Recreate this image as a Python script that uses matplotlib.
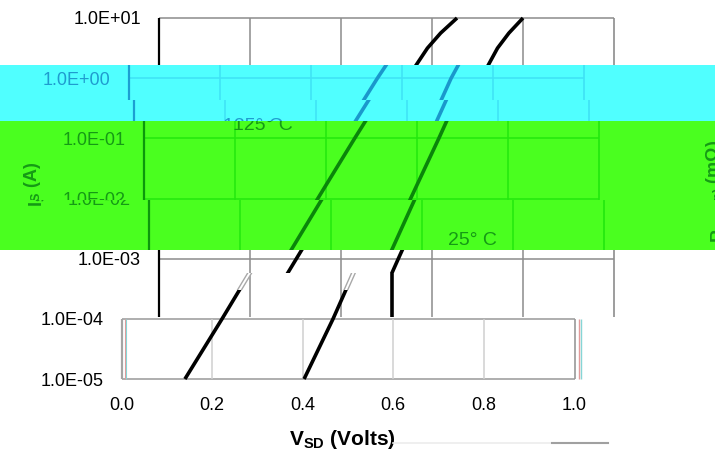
import numpy as np
import matplotlib
matplotlib.use("Agg")
import matplotlib.pyplot as plt
from matplotlib.ticker import NullLocator
from matplotlib.lines import Line2D

plt.rcParams['font.family'] = ['Liberation Sans', 'DejaVu Sans']
plt.rcParams['mathtext.fontset'] = 'custom'
plt.rcParams['mathtext.rm'] = 'Liberation Sans'
plt.rcParams['mathtext.bf'] = 'Liberation Sans:bold'
plt.rcParams['mathtext.it'] = 'Liberation Sans:italic'

# ---------------- data ----------------
is_amps = [1e-5, 1e-4, 1e-3, 1e-2, 1e-1, 1.0, 3.16, 5.62, 10.0]
vsd_125c = [0.140, 0.222, 0.302, 0.382, 0.463, 0.546, 0.590, 0.619, 0.655]
vsd_25c = [0.403, 0.467, 0.526, 0.586, 0.648, 0.708, 0.744, 0.769, 0.800]
y_ticks = [1e-5, 1e-4, 1e-3, 1e-2, 1e-1, 1e0, 1e1]
y_tick_labels = ["1.0E-05", "1.0E-04", "1.0E-03", "1.0E-02", "1.0E-01", "1.0E+00", "1.0E+01"]
x_ticks = [0.0, 0.2, 0.4, 0.6, 0.8, 1.0]
x_tick_labels = ["0.0", "0.2", "0.4", "0.6", "0.8", "1.0"]
curve_labels = ["125° C", "25° C"]
x_label = r"V$_{\mathbf{SD}}$ (Volts)"
y_label = r"I$_{\mathbf{S}}$ (A)"
right_label = r"R$_{\mathbf{DS(on)}}$ (mΩ)"

# ---------------- geometry ----------------
W, H = 715, 450
TOP_PX = 18.0      # pixel row of 1E+01
DEC_PX = 60.17     # pixels per decade


def L_of(px):
    return 1 - (px - TOP_PX) / DEC_PX


def Y_of(px):
    return 10 ** L_of(px)


themes = {
    'white': dict(bg='white', spine='black', frame='#8c8c8c', grid='#8c8c8c',
                  curve='black', text='black'),
    'cyan': dict(bg='#50ffff', spine='#1c9fd2', frame='#3fe2f5', grid='#3fe2f5',
                 curve='#1a98cc', text='#1f9ccf'),
    'green': dict(bg='#4aff1f', spine='#0c980c', frame='#22e80e', grid='#22e80e',
                  curve='#0a850a', text='#159a15'),
    'box': dict(bg='none', spine='#a4a4a4', frame='#989898', grid='#cfcfcf',
                curve='black', text='black'),
}

fig = plt.figure(figsize=(W / 100, H / 100), dpi=100)


def make_ax(top, bot, x0, scale, bg):
    ax = fig.add_axes([0, 1 - bot / H, 1, (bot - top) / H])
    ax.set_yscale('log')
    ax.set_xlim(-x0 / scale, (W - x0) / scale)
    ax.set_ylim(Y_of(bot), Y_of(top))
    if bg == 'none':
        ax.patch.set_alpha(0)
    else:
        ax.set_facecolor(bg)
    for s in ax.spines.values():
        s.set_visible(False)
    ax.yaxis.set_minor_locator(NullLocator())
    ax.tick_params(which='both', left=False, bottom=False,
                   labelleft=False, labelbottom=False)
    return ax


def draw_grid(ax, th, ylo=None, yhi=None, hl=None):
    ylo = y_ticks[0] if ylo is None else ylo
    yhi = y_ticks[-1] if yhi is None else yhi
    hl = y_ticks if hl is None else hl
    if len(hl):
        ax.hlines(hl, x_ticks[0], x_ticks[-1], colors=th['frame'], lw=1.1)
    ax.vlines(x_ticks[1:-1], ylo, yhi, colors=th['grid'], lw=1.1)
    ax.vlines(x_ticks[-1], ylo, yhi, colors=th['frame'], lw=1.2)
    ax.vlines(x_ticks[0], ylo, yhi, colors=th['spine'], lw=1.6)


def draw_curves(ax, th):
    ax.plot(vsd_125c, is_amps, color=th['curve'], lw=2.6, solid_capstyle='butt')
    ax.plot(vsd_25c, is_amps, color=th['curve'], lw=2.6, solid_capstyle='butt')


def draw_texts(ax, th):
    for yt, lab in zip(y_ticks, y_tick_labels):
        ax.text(-0.04, yt * 10 ** (-6.5 / DEC_PX), lab, ha='right', va='baseline',
                fontsize=13, color=th['text'], clip_on=True)
    ax.text(0.2615, Y_of(130.5), curve_labels[0], ha='center', va='baseline',
            fontsize=14, color=th['text'], clip_on=True)
    ax.text(0.711, Y_of(244.5), curve_labels[1], ha='center', va='baseline',
            fontsize=14, color=th['text'], clip_on=True)
    ax.text(-0.244, Y_of(184), y_label, rotation=90, ha='center', va='center',
            fontsize=13, fontweight='bold', color=th['text'], clip_on=True)
    ax.text(1.233, Y_of(140), right_label, rotation=90, ha='left', va='top',
            fontsize=13, fontweight='bold', color=th['text'], clip_on=True)


# upper strips (top, bottom, x-origin pixel, theme)
strips = [
    (0, 65, 159, 'white'),
    (65, 100, 129, 'cyan'),
    (100, 121, 134, 'cyan'),
    (121, 201, 144, 'green'),
    (200, 250, 148.5, 'green'),
    (250, 273, 159, 'white'),
]
for top, bot, x0, key in strips:
    th = themes[key]
    ax = make_ax(top, bot, x0, 455, th['bg'])
    draw_grid(ax, th)
    draw_curves(ax, th)
    draw_texts(ax, th)

# smeared strip: grid only + vertical smear of the 25 C trace
th = themes['white']
ax7 = make_ax(273, 317, 159, 455, 'white')
draw_grid(ax7, th, hl=[])
L273 = L_of(273)
vx = np.interp(L273, np.log10(is_amps), vsd_25c)
ax7.vlines(vx, Y_of(317), 10 ** L273, colors='black', lw=2.6)

# ghost traces
axg = make_ax(273, 290, 121.5, 453, 'none')
for v in (vsd_125c, vsd_25c):
    axg.plot(v, is_amps, color='#a8a8a8', lw=3.4)
    axg.plot(v, is_amps, color='white', lw=1.4)

# bottom box
thb = themes['box']
ax8 = make_ax(290, 450, 121.5, 453, 'none')
draw_grid(ax8, thb, ylo=y_ticks[0], yhi=y_ticks[1], hl=y_ticks[:2])
ax8.vlines([x_ticks[-1] + 0.011], y_ticks[0], y_ticks[1], colors='#e39a9a', lw=1.0)
ax8.vlines([x_ticks[-1] + 0.014], y_ticks[0], y_ticks[1], colors='#86d6d6', lw=1.0)
ax8.vlines([x_ticks[0] + 0.008], y_ticks[0], y_ticks[1], colors='#e39a9a', lw=0.8)
ax8.vlines([x_ticks[0] + 0.010], y_ticks[0], y_ticks[1], colors='#86d6d6', lw=0.8)
draw_curves(ax8, thb)
draw_texts(ax8, thb)
for xt, lab in zip(x_ticks, x_tick_labels):
    ax8.text(xt, Y_of(410), lab, ha='center', va='baseline', fontsize=13,
             color='black', clip_on=True)
ax8.text(0.487, Y_of(445), x_label, ha='center', va='baseline', fontsize=15,
         fontweight='bold', color='black', clip_on=True)

# faint scan-line remnants at the bottom
fig.add_artist(Line2D([393 / W, 550 / W], [1 - 443 / H] * 2, color='#ececec', lw=1.2))
fig.add_artist(Line2D([552 / W, 608 / W], [1 - 443 / H] * 2, color='#a0a0a0', lw=1.5))

fig.savefig('out.png', dpi=100)
